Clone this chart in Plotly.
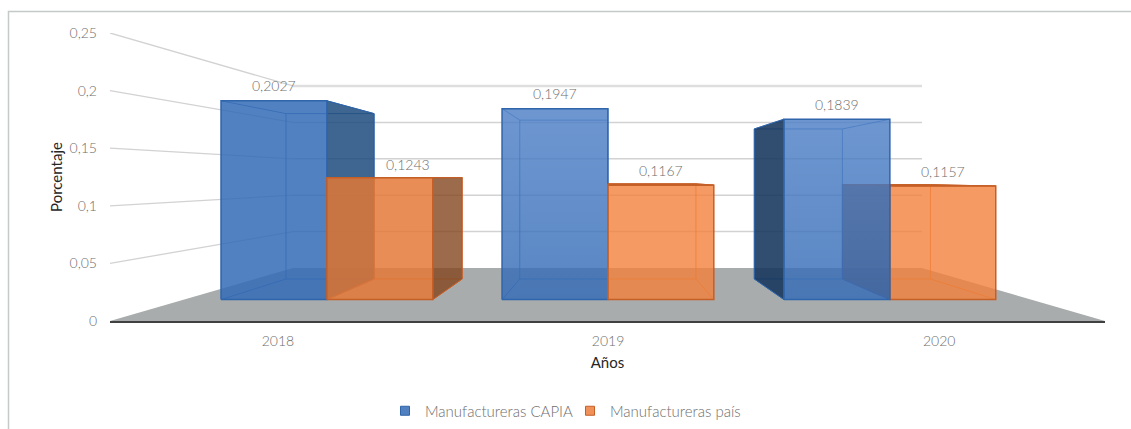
import plotly.graph_objects as go

# ---------- data ----------
categories = ["2018", "2019", "2020"]
capia_values = [0.2027, 0.1947, 0.1839]
pais_values = [0.1243, 0.1167, 0.1157]
capia_labels = ["0,2027", "0,1947", "0,1839"]
pais_labels = ["0,1243", "0,1167", "0,1157"]
y_ticks = [0, 0.05, 0.1, 0.15, 0.2, 0.25]
y_tick_labels = ["0", "0,05", "0,1", "0,15", "0,2", "0,25"]

# ---------- 3D scene settings ----------
K = 0.582          # perspective strength along depth
EYE = 0.125        # value at eye level (vanishing point height)
Z_FRONT, Z_BACK = 0.30, 0.708
BAR_W = 0.25
CENTERS = [-0.6625, 0.001, 2 / 3]


def proj(x, v, z):
    s = 1 / (1 + K * z)
    return x * s, EYE + s * (v - EYE)


def poly(points, fill=None, line=None, width=1.0, close=True, gradient=None):
    pts = [proj(*p) for p in points]
    if close:
        pts.append(pts[0])
    return go.Scatter(
        x=[p[0] for p in pts], y=[p[1] for p in pts],
        mode="lines" if line else "none",
        fill="toself" if fill or gradient else None,
        fillcolor=fill,
        fillgradient=dict(type="vertical", colorscale=[[0, gradient[0]], [1, gradient[1]]]) if gradient else None,
        line=dict(color=line, width=width) if line else None,
        hoverinfo="skip", showlegend=False,
    )


traces = []
GRID = "#d2d2d2"
# floor
traces.append(poly([(-1, 0, 0), (1, 0, 0), (1, 0, 1), (-1, 0, 1)], fill="#a9acac"))
# walls
for t in y_ticks[1:]:
    traces.append(poly([(-1, t, 0), (-1, t, 1)], line=GRID, width=1.3, close=False))
    top = t == y_ticks[-1]
    traces.append(poly([(-1, t, 1), (1, t, 1)], line="#dedede" if top else GRID,
                       width=2.5 if top else 1.5, close=False))

BLUE = dict(front=["rgba(52,107,182,0.85)", None, None],
            grad=[None, ("rgba(52,107,182,0.82)", "rgba(78,128,198,0.82)"),
                  ("rgba(52,107,182,0.82)", "rgba(78,128,198,0.82)")],
            side="rgba(20,52,92,0.88)", side2="rgba(28,75,125,0.85)",
            top="rgba(30,75,130,0.9)", edge="#2f65ab", inner="rgba(40,95,170,0.75)")
ORANGE = dict(front=["rgba(228,119,53,0.84)", "rgba(242,129,59,0.8)", "rgba(242,129,59,0.8)"],
              grad=[None, None, None],
              side="rgba(130,70,30,0.8)", side2="rgba(130,70,30,0.8)",
              top="rgba(190,90,30,0.95)", edge="#c55f28", inner="rgba(215,100,35,0.75)")


def draw_bar(x0, x1, v, st, i):
    zf, zb = Z_FRONT, Z_BACK
    out = []
    # inner edges (back rectangle and depth edges)
    out.append(poly([(x0, 0, zb), (x1, 0, zb), (x1, v, zb), (x0, v, zb)], line=st["inner"]))
    for xx in (x0, x1):
        for vv in (0, v):
            out.append(poly([(xx, vv, zf), (xx, vv, zb)], line=st["inner"], close=False))
    # outward-facing side
    if x1 < -0.01:
        out.append(poly([(x1, 0, zf), (x1, v, zf), (x1, v, zb), (x1, 0, zb)],
                        fill=st["side2"], line=st["edge"], width=1))
    if x0 > 0.01:
        out.append(poly([(x0, 0, zf), (x0, v, zf), (x0, v, zb), (x0, 0, zb)],
                        fill=st["side"], line=st["edge"], width=1))
    # top is seen from above only when lower than eye level
    if v < EYE:
        out.append(poly([(x0, v, zf), (x1, v, zf), (x1, v, zb), (x0, v, zb)],
                        fill=st["top"], line=st["edge"], width=1))
    # front
    out.append(poly([(x0, 0, zf), (x1, 0, zf), (x1, v, zf), (x0, v, zf)],
                    fill=st["front"][i], gradient=st["grad"][i], line=st["edge"], width=1.5))
    return out


annotations = []
TEXT_GRAY = "#6e6e6e"
LABEL_FONT = dict(family="Lato", size=14, color=TEXT_GRAY, weight=300)
for i, c in enumerate(CENTERS):
    blue = draw_bar(c - BAR_W, c, capia_values[i], BLUE, i)
    orange = draw_bar(c, c + BAR_W, pais_values[i], ORANGE, i)
    # painter's order: the bar nearer the centre line lies behind
    traces += (orange + blue) if c > 0.01 else (blue + orange)
    for xc, v, txt in ((c - BAR_W / 2, capia_values[i], capia_labels[i]),
                       (c + BAR_W / 2, pais_values[i], pais_labels[i])):
        px, py = proj(xc, v, Z_FRONT)
        moved = txt == "0,1243"
        annotations.append(dict(x=px, y=py, xref="x", yref="y", text=txt, showarrow=False,
                                font=LABEL_FONT, xanchor="center", yanchor="middle",
                                yshift=13 if moved else 15, xshift=28 if moved else 0))

# legend entries
for name, col, edge in (("Manufactureras CAPIA", "#5080bf", "#2f65ab"),
                        ("Manufactureras país", "#f0915a", "#c55f28")):
    traces.append(go.Scatter(x=[None], y=[None], mode="markers", name=name,
                             marker=dict(symbol="square", size=9, color=col,
                                         line=dict(color=edge, width=1))))

TITLE_FONT = dict(family="Lato", size=15, color="#262626", weight=400)
fig = go.Figure(traces)
fig.update_layout(
    width=1131, height=429, autosize=False,
    margin=dict(l=110, r=26, t=33, b=108),
    paper_bgcolor="white", plot_bgcolor="rgba(0,0,0,0)",
    font=dict(family="Lato", size=14, color=TEXT_GRAY, weight=300),
    annotations=annotations,
    legend=dict(orientation="h", xref="container", yref="container",
                x=385 / 1131, xanchor="left", y=(429 - 411) / 429, yanchor="middle",
                entrywidth=140, entrywidthmode="pixels",
                font=dict(family="Lato", size=15, color=TEXT_GRAY, weight=300)),
    xaxis=dict(range=[-1, 1], tickvals=CENTERS, ticktext=categories, showgrid=False,
               zeroline=False, showline=True, linecolor="#404040", linewidth=2,
               ticklabelstandoff=6,
               title=dict(text="Años", standoff=10, font=TITLE_FONT)),
    yaxis=dict(range=[0, 0.25], tickvals=y_ticks, ticktext=y_tick_labels, showgrid=False,
               zeroline=False, showline=False, ticklabelstandoff=12,
               title=dict(text="Porcentaje", standoff=3, font=TITLE_FONT)),
    shapes=[dict(type="path", xref="paper", yref="paper",
                 path="M %f,%f L %f,%f L %f,%f" % ((8.5 - 110) / 995, (321 - 429) / 288,
                                                   (8.5 - 110) / 995, (321 - 11.5) / 288,
                                                   (1131 - 110) / 995, (321 - 11.5) / 288),
                 line=dict(color="#c4cac8", width=1.5))],
)
fig.write_html("out.html", config=dict(displayModeBar=False),
               post_script="document.body.style.margin='0';")
